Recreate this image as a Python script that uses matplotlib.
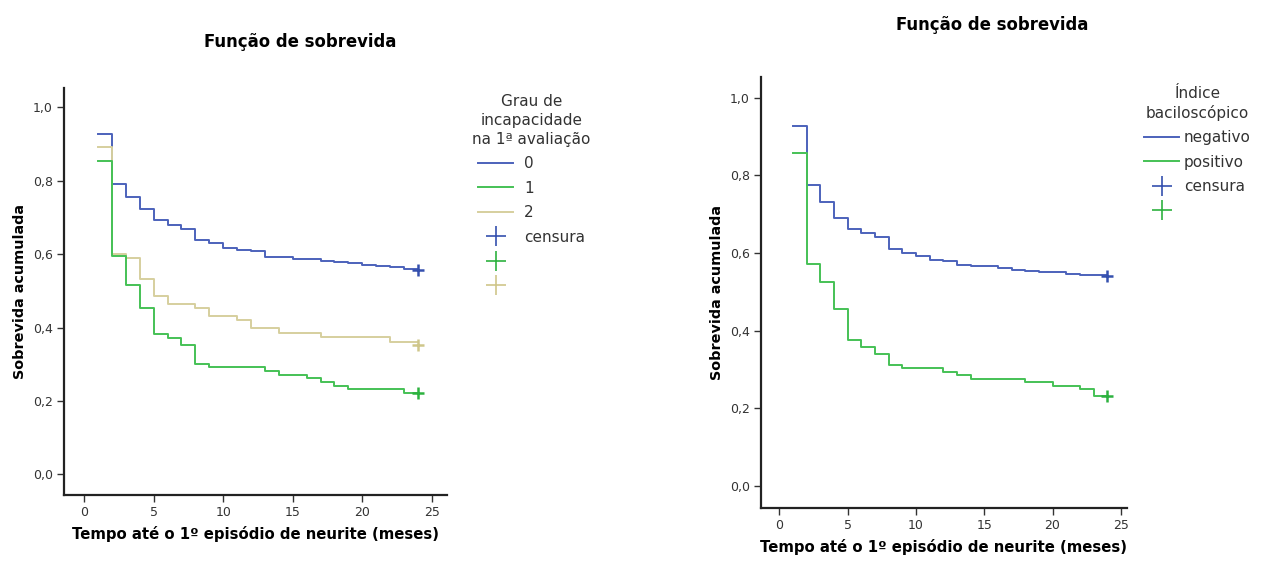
import matplotlib
matplotlib.use("Agg")
import matplotlib.pyplot as plt
from matplotlib.lines import Line2D

plt.rcParams['font.family'] = ['DejaVu Sans']

# -------------------------------
# LEFT CHART: Grau de incapacidade na 1a avaliacao
# -------------------------------
t_g0 = [1, 2, 3, 4, 5, 6, 7, 8, 9, 10, 11, 12, 13, 15, 17, 18, 19, 20, 21, 22, 23, 24]
s_g0 = [0.929, 0.791, 0.756, 0.722, 0.693, 0.681, 0.668, 0.638, 0.630, 0.617, 0.612,
        0.608, 0.593, 0.587, 0.583, 0.580, 0.576, 0.572, 0.568, 0.564, 0.559, 0.556]

t_g1 = [1, 2, 3, 4, 5, 6, 7, 8, 9, 13, 14, 16, 17, 18, 19, 23, 24]
s_g1 = [0.854, 0.596, 0.515, 0.454, 0.384, 0.373, 0.353, 0.302, 0.292, 0.282, 0.271,
        0.262, 0.252, 0.241, 0.232, 0.221, 0.221]

t_g2 = [1, 2, 3, 4, 5, 6, 8, 9, 11, 12, 14, 17, 22, 24]
s_g2 = [0.891, 0.600, 0.590, 0.533, 0.487, 0.465, 0.453, 0.431, 0.421, 0.398, 0.386,
        0.375, 0.362, 0.362]
cens_g2 = 0.352

# -------------------------------
# RIGHT CHART: Indice baciloscopico
# -------------------------------
t_neg = [1, 2, 3, 4, 5, 6, 7, 8, 9, 10, 11, 12, 13, 14, 16, 17, 18, 19, 21, 22, 24]
s_neg = [0.927, 0.775, 0.731, 0.690, 0.661, 0.652, 0.642, 0.610, 0.601, 0.592, 0.582,
         0.579, 0.570, 0.566, 0.562, 0.556, 0.553, 0.550, 0.545, 0.542, 0.541]

t_pos = [1, 2, 3, 4, 5, 6, 7, 8, 9, 12, 13, 14, 18, 20, 22, 23, 24]
s_pos = [0.858, 0.572, 0.526, 0.456, 0.375, 0.357, 0.339, 0.312, 0.303, 0.294, 0.285,
         0.276, 0.267, 0.258, 0.250, 0.231, 0.231]

x_ticks = [0, 5, 10, 15, 20, 25]
y_ticks = [0.0, 0.2, 0.4, 0.6, 0.8, 1.0]
y_tick_labels = ["0,0", "0,2", "0,4", "0,6", "0,8", "1,0"]

c_blue, c_green, c_tan = "#4c62bb", "#45c155", "#d6cf9e"
m_blue, m_green, m_tan = "#3550ae", "#2db23f", "#cfc68a"

fig = plt.figure(figsize=(12.76, 5.61), dpi=100)


def style_axes(ax, xlim, ylim):
    ax.set_xlim(*xlim)
    ax.set_ylim(*ylim)
    ax.set_xticks(x_ticks)
    ax.set_yticks(y_ticks)
    ax.set_yticklabels(y_tick_labels)
    for side in ["top", "right"]:
        ax.spines[side].set_visible(False)
    for side in ["left", "bottom"]:
        ax.spines[side].set_linewidth(1.6)
        ax.spines[side].set_color("#222222")
    ax.tick_params(axis="both", direction="out", length=5, width=1.0,
                   color="#333333", labelcolor="#333333", labelsize=9, pad=3)
    ax.set_ylabel("Sobrevida acumulada", fontsize=10.4, fontweight="bold", labelpad=4)
    ax.set_xlabel("Tempo até o 1º episódio de neurite (meses)", fontsize=10.7,
                  fontweight="bold", labelpad=5)


def km(ax, t, s, color, mcolor, cens=None):
    ax.step(t, s, where="post", color=color, lw=1.4)
    ax.plot(t[-1], s[-1] if cens is None else cens, marker="+", ms=9, mew=1.8,
            color=mcolor, ls="none")


# left
ax1 = fig.add_axes([0.0502, 0.1176, 0.3002, 0.7255])
km(ax1, t_g0, s_g0, c_blue, m_blue)
km(ax1, t_g2, s_g2, c_tan, m_tan, cens_g2)
km(ax1, t_g1, s_g1, c_green, m_green)
style_axes(ax1, (-1.44, 26.1), (-0.056, 1.053))
ax1.set_title("Função de sobrevida", fontsize=11.9, fontweight="bold", pad=0,
              x=0.617, y=1.1)

h1 = [Line2D([], [], color=c_blue, lw=1.4), Line2D([], [], color=c_green, lw=1.4),
      Line2D([], [], color=c_tan, lw=1.4),
      Line2D([], [], color=m_blue, marker="+", ms=15, mew=1.2, ls="none"),
      Line2D([], [], color=m_green, marker="+", ms=15, mew=1.2, ls="none"),
      Line2D([], [], color=m_tan, marker="+", ms=15, mew=1.2, ls="none")]
leg1 = ax1.legend(h1, ["0", "1", "2", "censura", "", ""],
                  title="Grau de\nincapacidade\nna 1ª avaliação",
                  loc="upper left", bbox_to_anchor=(1.03, 1.018), frameon=False,
                  fontsize=11, title_fontsize=11, handlelength=2.3,
                  handletextpad=0.7, labelspacing=0.62, labelcolor="#333333")
leg1.get_title().set_color("#333333")
leg1.get_title().set_multialignment("center")
leg1.get_title().set_linespacing(1.3)

# right
ax2 = fig.add_axes([0.5964, 0.0945, 0.2866, 0.7677])
km(ax2, t_neg, s_neg, c_blue, m_blue)
km(ax2, t_pos, s_pos, c_green, m_green)
style_axes(ax2, (-1.34, 25.43), (-0.057, 1.0525))
ax2.set_title("Função de sobrevida", fontsize=11.9, fontweight="bold", pad=0,
              x=0.631, y=1.11)

h2 = [Line2D([], [], color=c_blue, lw=1.4), Line2D([], [], color=c_green, lw=1.4),
      Line2D([], [], color=m_blue, marker="+", ms=15, mew=1.2, ls="none"),
      Line2D([], [], color=m_green, marker="+", ms=15, mew=1.2, ls="none")]
leg2 = ax2.legend(h2, ["negativo", "positivo", "censura", ""],
                  title="Índice\nbaciloscópico",
                  loc="upper left", bbox_to_anchor=(1.01, 1.012), frameon=False,
                  fontsize=11, title_fontsize=11, handlelength=2.3,
                  handletextpad=0.3, labelspacing=0.62, labelcolor="#333333")
leg2.get_title().set_color("#333333")
leg2.get_title().set_multialignment("center")
leg2.get_title().set_linespacing(1.3)

fig.savefig("out.png", dpi=100, facecolor="white")
